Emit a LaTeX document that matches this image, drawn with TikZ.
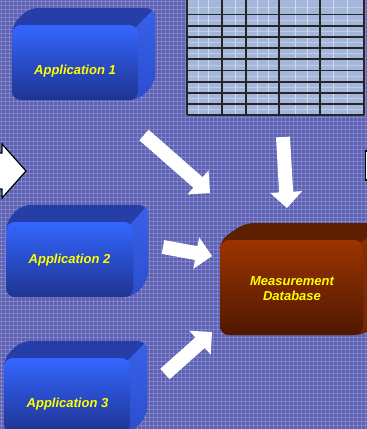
\documentclass[tikz,border=0pt]{standalone}
\usepackage{fontspec}
\setmainfont{Liberation Sans}
\usetikzlibrary{calc}

\definecolor{bgbase}{RGB}{92,96,174}
\definecolor{bggrid}{RGB}{128,132,204}
\definecolor{apptop}{RGB}{38,62,168}
\definecolor{appsidetop}{RGB}{56,96,232}
\definecolor{appsidebot}{RGB}{40,74,200}
\definecolor{appfronttop}{RGB}{52,102,255}
\definecolor{appfrontbot}{RGB}{30,52,145}
\definecolor{dbtop}{RGB}{92,32,0}
\definecolor{dbsidetop}{RGB}{140,48,6}
\definecolor{dbsidebot}{RGB}{110,36,2}
\definecolor{dbfronttop}{RGB}{156,52,0}
\definecolor{dbfrontbot}{RGB}{78,24,0}
\definecolor{labelyellow}{RGB}{255,255,0}
\definecolor{cellfill}{RGB}{164,182,218}
\definecolor{cellline}{RGB}{204,220,240}

\tikzset{
  boxlabel/.style={text=labelyellow, font=\bfseries\itshape\fontsize{13}{15.5}\selectfont,
    align=center, inner sep=0pt},
  flowarrow/.style={fill=white},
  outlinearrow/.style={fill=white, draw=black, line width=1.2pt, line join=miter},
  tablegrid/.style={draw=black!85, line width=1.05pt},
  tablefaint/.style={draw=cellline, line width=0.6pt},
}

% extruded rounded slab: front face (#1,#2)-(#3,#4), depth offset (#5,#6), colour prefix #7
\newcommand\slab[7]{%
  \fill[#7top, rounded corners=9pt] (#1,{(#2+#4)/2}) -- (#1,#2) -- ({#1+#5},{#2+#6})
    -- ({#3+#5},{#2+#6}) -- ({#3+#5},{#4+#6}) -- (#3,#4) -- (#1,#4) -- cycle;
  \begin{scope}
    \clip[rounded corners=9pt] (#1,{(#2+#4)/2}) -- (#1,#2) -- ({#1+#5},{#2+#6})
      -- ({#3+#5},{#2+#6}) -- ({#3+#5},{#4+#6}) -- (#3,#4) -- (#1,#4) -- cycle;
    \shade[top color=#7sidetop, bottom color=#7sidebot]
      ({#3-3},{#2+3}) -- ({#3-3+#5},{#2+3+#6}) -- ({#3+#5+10},{#2+3+#6})
      -- ({#3+#5+10},{#4+#6+20}) -- ({#3-3},{#4+20}) -- cycle;
  \end{scope}
  \shade[rounded corners=9pt, top color=#7fronttop, bottom color=#7frontbot]
    (#1,#2) rectangle (#3,#4);
}

% white block arrow from coordinate (#1-s) to its tip (#1-t)
\newcommand\blockarrow[1]{%
  \coordinate (#1-b) at ($(#1-t)!16pt!(#1-s)$);
  \fill[flowarrow] ($(#1-s)!7pt!90:(#1-t)$) -- ($(#1-b)!7pt!90:(#1-t)$)
    -- ($(#1-b)!16pt!90:(#1-t)$) -- (#1-t) -- ($(#1-b)!16pt!-90:(#1-t)$)
    -- ($(#1-b)!7pt!-90:(#1-t)$) -- ($(#1-s)!7pt!-90:(#1-t)$) -- cycle;
}

\begin{document}
\begin{tikzpicture}[x=1pt, y=-1pt]
  \useasboundingbox (0,0) rectangle (367,429);
  \clip (0,0) rectangle (367,429);

  % textured backdrop
  \fill[bgbase] (0,0) rectangle (367,429);
  \foreach \i in {1,5,...,369} \draw[bggrid, line width=0.8pt] (\i,0) -- (\i,429);
  \foreach \j in {1,5,...,429} \draw[bggrid, line width=0.8pt] (0,\j) -- (367,\j);

  % data table
  \fill[cellfill] (187,-2) rectangle (364,115);
  \foreach \x in {198,208,235,257,268,295,307,333,347}
    \draw[tablefaint] (\x,-2) -- (\x,115);
  \foreach \y in {7,20,31.5,42.5,53.5,65,76,87.5,98.5,109.5}
    \draw[tablefaint, opacity=0.6] (187,\y) -- (364,\y);
  \foreach \x in {187,222,246,279,320,364}
    \draw[tablegrid] (\x,-2) -- (\x,115);
  \foreach \y in {14.5,26,37,48,59,70.5,82,93,104,115}
    \draw[tablegrid] (187,\y) -- (364,\y);

  % application slabs and database slab
  \slab{12}{25}{138}{100}{17}{-17}{app}
  \slab{6}{222}{133}{297}{15}{-17}{app}
  \slab{4}{358}{130}{433}{17}{-17}{app}
  \slab{220}{240}{363}{335}{25}{-17}{db}

  \node[boxlabel] (app1) at (75,71) {Application 1};
  \node[boxlabel] (app2) at (69.5,260) {Application 2};
  \node[boxlabel] (app3) at (67.5,404) {Application 3};
  \node[boxlabel] (db) at (292,288.5) {Measurement\\Database};

  % flow arrows into the database
  \coordinate (a1-s) at (144,135);  \coordinate (a1-t) at (210,193);
  \coordinate (a2-s) at (283,137);  \coordinate (a2-t) at (287,208);
  \coordinate (a3-s) at (163,247);  \coordinate (a3-t) at (212,256);
  \coordinate (a4-s) at (165,374);  \coordinate (a4-t) at (212,332);
  \blockarrow{a1}
  \blockarrow{a2}
  \blockarrow{a3}
  \blockarrow{a4}

  % outlined arrows at the side edges
  \draw[outlinearrow] (-10,153) -- (2,153) -- (2,144) -- (26,171) -- (2,198)
    -- (2,189) -- (-10,189) -- cycle;
  \draw[outlinearrow] (380,151) -- (365.5,151) -- (365.5,180) -- (380,180);
\end{tikzpicture}
\end{document}
